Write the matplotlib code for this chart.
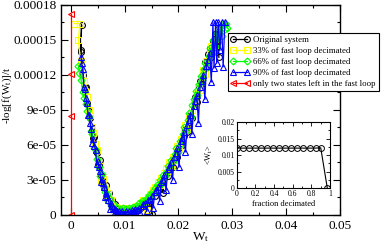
import matplotlib
matplotlib.use("Agg")
import matplotlib.pyplot as plt
from matplotlib.ticker import MultipleLocator, FixedLocator

plt.rcParams['font.family'] = ['Liberation Serif', 'DejaVu Serif']
plt.rcParams['mathtext.default'] = 'regular'

SCALE = 1e-5  # series values below are in units of 1e-5

# original system
w_orig = [0.0018, 0.0020, 0.0019, 0.0023, 0.0026, 0.0028, 0.0031, 0.0034, 0.0036, 0.0039,
          0.0041, 0.0043, 0.0046, 0.0049, 0.0052, 0.0054, 0.0057, 0.0060, 0.0062, 0.0065,
          0.0068, 0.0071, 0.0074, 0.0077, 0.0080, 0.0082, 0.0085, 0.0088, 0.0091, 0.0094,
          0.0097, 0.0100, 0.0103, 0.0106, 0.0109, 0.0112, 0.0115, 0.0118, 0.0121, 0.0124,
          0.0127, 0.0130, 0.0133, 0.0136, 0.0139, 0.0142, 0.0145, 0.0148, 0.0150, 0.0153,
          0.0156, 0.0159, 0.0162, 0.0165, 0.0168, 0.0171, 0.0174, 0.0177, 0.0180, 0.0183,
          0.0186, 0.0189, 0.0192, 0.0195, 0.0198, 0.0201, 0.0204, 0.0207, 0.0210, 0.0213,
          0.0216, 0.0219, 0.0222, 0.0225, 0.0228, 0.0231, 0.0234, 0.0237, 0.0240, 0.0243,
          0.0246, 0.0249, 0.0252, 0.0255, 0.0258, 0.0261, 0.0264, 0.0267, 0.0270, 0.0273,
          0.0275]
v_orig = [14.0, 16.3, 14.1, 12.0, 11.0, 11.0, 9.6, 8.9, 8.3, 7.5,
          6.6, 6.7, 5.5, 5.3, 4.3, 4.7, 3.4, 2.9, 2.3, 2.6,
          1.6, 1.9, 1.0, 1.3, 0.5, 0.9, 0.2, 0.6, 0.3, 0.4,
          0.1, 0.3, 0.2, 0.3, 0.2, 0.4, 0.3, 0.5, 0.4, 0.6,
          0.5, 0.8, 0.7, 1.0, 0.9, 1.2, 1.0, 1.5, 0.1, 1.8,
          1.6, 2.1, 2.4, 2.2, 2.7, 1.9, 3.2, 3.5, 3.3, 4.0,
          4.4, 4.1, 4.8, 5.2, 5.0, 5.7, 6.2, 6.0, 6.8, 7.4,
          7.1, 8.0, 8.6, 8.3, 9.4, 10.1, 9.7, 10.8, 11.5, 11.2,
          12.3, 13.1, 12.6, 13.8, 14.3, 13.5, 14.9, 15.5, 14.6, 15.9,
          13.5]

# 33% of fast loop decimated
w_33 = [0.0006, 0.0017, 0.0014, 0.0018, 0.0021, 0.0024, 0.0027, 0.0030, 0.0033, 0.0036,
        0.0039, 0.0042, 0.0045, 0.0048, 0.0051, 0.0054, 0.0057, 0.0060, 0.0063, 0.0066,
        0.0069, 0.0072, 0.0075, 0.0078, 0.0081, 0.0084, 0.0087, 0.0090, 0.0093, 0.0096,
        0.0099, 0.0102, 0.0105, 0.0108, 0.0111, 0.0114, 0.0117, 0.0120, 0.0123, 0.0126,
        0.0129, 0.0132, 0.0135, 0.0138, 0.0141, 0.0144, 0.0147, 0.0150, 0.0153, 0.0156,
        0.0159, 0.0162, 0.0165, 0.0168, 0.0171, 0.0174, 0.0177, 0.0180, 0.0183, 0.0186,
        0.0189, 0.0192, 0.0195, 0.0198, 0.0201, 0.0204, 0.0207, 0.0210, 0.0213, 0.0216,
        0.0219, 0.0222, 0.0225, 0.0228, 0.0231, 0.0234, 0.0237, 0.0240, 0.0243, 0.0246,
        0.0249, 0.0252, 0.0255, 0.0258, 0.0261, 0.0264, 0.0267, 0.0270]
v_33 = [16.4, 16.4, 15.0, 13.2, 12.0, 11.5, 10.6, 10.1, 9.0, 8.6,
        7.5, 7.0, 6.1, 5.6, 4.6, 4.2, 2.9, 3.1, 2.3, 1.7,
        1.9, 1.0, 1.3, 0.6, 0.3, 0.7, 0.4, 0.6, 0.2, 0.5,
        0.3, 0.6, 0.4, 0.2, 0.5, 0.3, 0.6, 0.5, 0.8, 0.6,
        1.0, 0.9, 1.3, 1.1, 0.4, 1.5, 1.8, 1.6, 2.1, 2.4,
        2.2, 2.8, 2.6, 3.2, 3.0, 3.6, 4.0, 3.8, 4.5, 4.3,
        5.0, 4.2, 5.5, 5.9, 5.7, 6.5, 6.3, 7.2, 7.7, 7.4,
        8.4, 8.1, 9.0, 9.6, 9.3, 10.4, 11.0, 10.7, 11.8, 12.4,
        12.1, 13.2, 13.0, 13.8, 14.5, 14.1, 15.2, 14.6]

# 66% of fast loop decimated
w_66 = [0.0014, 0.0016, 0.0019, 0.0022, 0.0025, 0.0028, 0.0031, 0.0034, 0.0037, 0.0040,
        0.0043, 0.0046, 0.0049, 0.0052, 0.0055, 0.0058, 0.0061, 0.0064, 0.0067, 0.0070,
        0.0073, 0.0076, 0.0079, 0.0082, 0.0085, 0.0088, 0.0091, 0.0094, 0.0097, 0.0100,
        0.0103, 0.0106, 0.0109, 0.0112, 0.0115, 0.0118, 0.0121, 0.0124, 0.0127, 0.0130,
        0.0133, 0.0136, 0.0139, 0.0142, 0.0145, 0.0148, 0.0151, 0.0154, 0.0157, 0.0160,
        0.0163, 0.0166, 0.0169, 0.0172, 0.0175, 0.0178, 0.0181, 0.0184, 0.0187, 0.0190,
        0.0193, 0.0196, 0.0199, 0.0202, 0.0205, 0.0208, 0.0211, 0.0214, 0.0217, 0.0220,
        0.0223, 0.0226, 0.0229, 0.0232, 0.0235, 0.0238, 0.0241, 0.0244, 0.0247, 0.0250,
        0.0253, 0.0256, 0.0259, 0.0262, 0.0265, 0.0268, 0.0271, 0.0274, 0.0277, 0.0280,
        0.0283, 0.0286, 0.0289, 0.0291]
v_66 = [12.8, 12.2, 11.6, 10.5, 10.0, 9.5, 8.9, 8.4, 7.2, 6.9,
        5.7, 5.6, 4.8, 4.1, 3.3, 3.5, 2.4, 2.0, 1.8, 1.2,
        1.4, 0.7, 0.9, 0.4, 0.6, 0.2, 0.5, 0.3, 0.6, 0.4,
        0.5, 0.3, 0.6, 0.5, 0.7, 0.4, 0.8, 0.7, 1.0, 0.9,
        1.2, 1.1, 1.4, 1.3, 1.7, 1.6, 2.0, 1.9, 2.3, 2.6,
        2.5, 3.0, 2.9, 3.4, 3.3, 3.8, 4.2, 4.0, 4.7, 4.5,
        5.2, 5.7, 5.4, 6.3, 6.1, 6.9, 7.5, 7.2, 8.1, 8.7,
        8.4, 9.4, 9.9, 10.6, 10.3, 11.2, 11.9, 11.6, 12.5, 13.0,
        12.7, 13.6, 14.3, 13.8, 15.0, 14.4, 15.6, 14.8, 16.1, 15.3,
        16.4, 15.9, 16.4, 16.0]

# 90% of fast loop decimated
w_90 = [0.0019, 0.0020, 0.0022, 0.0024, 0.0026, 0.0028, 0.0030, 0.0032, 0.0034, 0.0036,
        0.0038, 0.0040, 0.0042, 0.0044, 0.0046, 0.0048, 0.0050, 0.0052, 0.0054, 0.0056,
        0.0058, 0.0060, 0.0062, 0.0064, 0.0066, 0.0068, 0.0070, 0.0072, 0.0074, 0.0076,
        0.0078, 0.0080, 0.0082, 0.0084, 0.0086, 0.0088, 0.0090, 0.0093, 0.0096, 0.0099,
        0.0102, 0.0105, 0.0108, 0.0111, 0.0114, 0.0117, 0.0120, 0.0123, 0.0126, 0.0129,
        0.0132, 0.0135, 0.0138, 0.0141, 0.0144, 0.0147, 0.0150, 0.0153, 0.0156, 0.0159,
        0.0162, 0.0165, 0.0168, 0.0171, 0.0174, 0.0177, 0.0180, 0.0183, 0.0186, 0.0189,
        0.0192, 0.0195, 0.0198, 0.0201, 0.0204, 0.0207, 0.0210, 0.0213, 0.0216, 0.0219,
        0.0222, 0.0225, 0.0228, 0.0231, 0.0234, 0.0237, 0.0240, 0.0243, 0.0246, 0.0249,
        0.0252, 0.0255, 0.0258, 0.0261, 0.0264, 0.0266, 0.0269, 0.0271, 0.0274, 0.0277,
        0.0280, 0.0283, 0.0286]
v_90 = [13.5, 13.0, 12.5, 11.0, 10.8, 10.0, 9.6, 8.6, 8.6, 7.9,
        7.4, 6.2, 6.5, 5.9, 5.6, 4.4, 4.6, 4.1, 3.8, 2.8,
        3.1, 2.7, 2.4, 1.5, 1.9, 1.6, 1.3, 0.5, 1.0, 0.8,
        0.6, 0.1, 0.5, 0.4, 0.3, 0.0, 0.3, 0.2, 0.3, 0.1,
        0.3, 0.2, 0.3, 0.2, 0.4, 0.3, 0.5, 0.4, 0.6, 0.2,
        0.8, 0.9, 1.0, 0.3, 1.3, 1.4, 1.6, 0.6, 2.0, 2.1,
        2.4, 1.2, 2.8, 3.0, 3.4, 2.1, 3.9, 4.1, 4.5, 3.0,
        5.0, 5.3, 5.7, 4.1, 6.3, 6.6, 7.1, 5.4, 7.7, 8.1,
        8.6, 6.9, 9.3, 9.8, 10.3, 7.9, 11.0, 11.5, 12.0, 9.9,
        12.8, 13.3, 13.9, 11.4, 16.5, 12.6, 16.5, 13.0, 16.5, 14.1,
        16.5, 12.7, 16.5]

# only two states left in the fast loop
w_two = [0.0, 0.0, 0.0, 0.0]
v_two = [0.0, 8.5, 12.1, 17.2]

# inset: mean W_t vs fraction decimated
frac = [0.0, 0.065, 0.13, 0.195, 0.26, 0.325, 0.39, 0.455, 0.52, 0.585,
        0.65, 0.715, 0.78, 0.845, 0.9, 0.97]
w_mean = [0.0121, 0.0121, 0.0121, 0.0121, 0.0121, 0.0121, 0.0121, 0.0121, 0.0121, 0.0121,
          0.0121, 0.0121, 0.0121, 0.0121, 0.0122, 0.0001]

fig = plt.figure(figsize=(3.82, 2.44), dpi=100)
ax = fig.add_axes([0.160, 0.119, 0.730, 0.861])

ms = 4.2
mew = 0.8
lw = 0.9
series = [
    (w_orig, v_orig, 'black', 'o', 'Original system'),
    (w_33, v_33, '#ffff00', 's', '33% of fast loop decimated'),
    (w_66, v_66, '#00ff00', 'D', '66% of fast loop decimated'),
    (w_90, v_90, '#0000ff', '^', '90% of fast loop decimated'),
    (w_two, v_two, '#ff0000', '<', 'only two states left in the fast loop'),
]
for w, v, c, m, lab in series:
    ax.plot(w, [x * SCALE for x in v], color=c, lw=lw, marker=m, ms=ms if m != 'D' else ms * 0.85,
            mfc='none', mec=c, mew=mew, label=lab)

ax.set_xlim(-0.0018, 0.05)
ax.set_ylim(0, 0.00018)
ax.xaxis.set_major_locator(FixedLocator([0, 0.01, 0.02, 0.03, 0.04, 0.05]))
ax.xaxis.set_minor_locator(MultipleLocator(0.005))
ax.yaxis.set_major_locator(MultipleLocator(3e-5))
ax.yaxis.set_minor_locator(MultipleLocator(1.5e-5))
ax.set_xticklabels(['0', '0.01', '0.02', '0.03', '0.04', '0.05'])
ax.set_yticks([0, 3e-5, 6e-5, 9e-5, 12e-5, 15e-5, 18e-5])
ax.set_yticklabels(['0', '3e-05', '6e-05', '9e-05', '0.00012', '0.00015', '0.00018'])
ax.tick_params(which='both', direction='in', top=True, right=True, labelsize=9.5, width=0.8)
ax.tick_params(which='major', length=5)
ax.tick_params(which='minor', length=2.5)
ax.set_xlabel('W$_t$', fontsize=9.5, labelpad=-1)
ax.set_ylabel('-log[f(W$_t$)]/t', fontsize=8)
ax.yaxis.set_label_coords(-0.17, 0.57)
for s in ax.spines.values():
    s.set_linewidth(1.0)

leg = ax.legend(loc='upper left', bbox_to_anchor=(228 / 382, 1 - 33 / 244),
                bbox_transform=fig.transFigure, fontsize=6.3, numpoints=2,
                handlelength=2.2, handletextpad=0.4, borderpad=0.3, labelspacing=0.35,
                borderaxespad=0, fancybox=False, framealpha=1, edgecolor='black')
leg.get_frame().set_linewidth(0.8)

# inset
axi = fig.add_axes([0.620, 0.229, 0.244, 0.271])
axi.plot(frac, w_mean, color='black', lw=0.8, marker='o', ms=4.2, mfc='none', mec='black', mew=0.7)
axi.set_xlim(0, 1)
axi.set_ylim(0, 0.02)
axi.xaxis.set_major_locator(MultipleLocator(0.2))
axi.xaxis.set_minor_locator(MultipleLocator(0.1))
axi.yaxis.set_major_locator(MultipleLocator(0.005))
axi.yaxis.set_minor_locator(MultipleLocator(0.0025))
axi.set_xticks([0, 0.2, 0.4, 0.6, 0.8, 1.0])
axi.set_xticklabels(['0', '0.2', '0.4', '0.6', '0.8', '1'])
axi.set_yticks([0, 0.005, 0.01, 0.015, 0.02])
axi.set_yticklabels(['0', '0.005', '0.01', '0.015', '0.02'])
axi.tick_params(which='both', direction='in', top=True, right=True, labelsize=5.5, pad=1.5, width=0.6)
axi.tick_params(which='major', length=3)
axi.tick_params(which='minor', length=1.5)
axi.set_xlabel('fraction decimated', fontsize=6, labelpad=1)
axi.set_ylabel('<W$_t$>', fontsize=6, labelpad=2)
for s in axi.spines.values():
    s.set_linewidth(0.8)

fig.savefig('out.png', dpi=100)
